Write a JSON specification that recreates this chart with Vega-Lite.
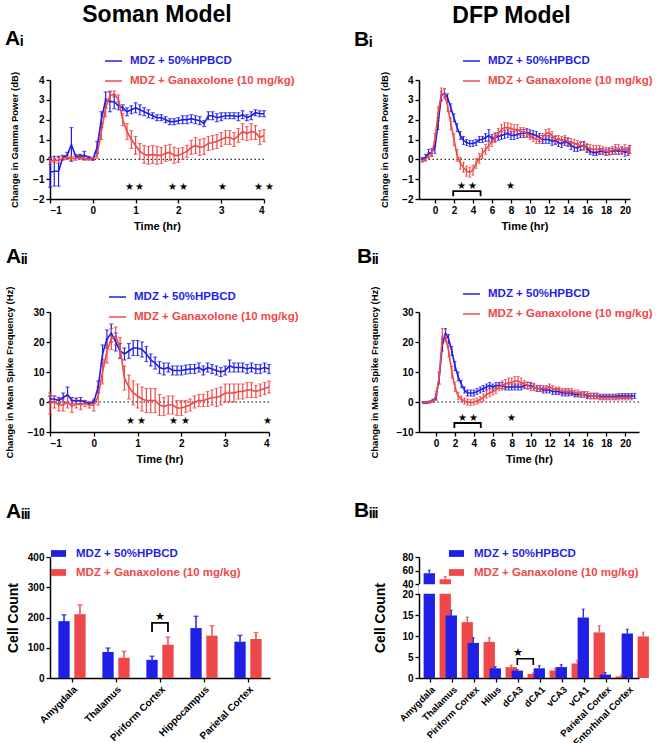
{
"$schema":"https://vega.github.io/schema/vega-lite/v6.json",
"background":"white",
"padding":{"left":4,"top":3,"right":0,"bottom":0},
"config":{"font":"Liberation Sans","view":{"stroke":null},
 "axis":{"labelFont":"Liberation Sans","labelFontWeight":"bold","labelFontSize":10,"labelColor":"black","labelOverlap":false,"titleFont":"Liberation Sans","titleFontWeight":"bold","titleColor":"black","titleFontSize":11,"domainColor":"black","domainWidth":1.5,"tickColor":"black","tickWidth":1.3,"tickSize":4,"grid":false,"labelPadding":2},
 "title":{"font":"Liberation Sans","fontWeight":"bold","color":"black"},
 "legend":{"labelFont":"Liberation Sans"}},
"datasets":{
"ai":[
{"g":"b","t":-1,"m":-0.65,"e":0.75},{"g":"b","t":-0.9,"m":-0.6,"e":0.75},{"g":"b","t":-0.8,"m":-0.6,"e":0.75},{"g":"b","t":-0.7,"m":0.1,"e":0.1},{"g":"b","t":-0.6,"m":0.2,"e":0.15},{"g":"b","t":-0.5,"m":0.75,"e":0.85},{"g":"b","t":-0.4,"m":0.15,"e":0.1},{"g":"b","t":-0.3,"m":0.15,"e":0.1},{"g":"b","t":-0.2,"m":0.2,"e":0.2},{"g":"b","t":-0.1,"m":0.1,"e":0.05},{"g":"b","t":0,"m":0.0,"e":0.05},{"g":"b","t":0.1,"m":0.6,"e":0.3},{"g":"b","t":0.2,"m":2.0,"e":0.4},{"g":"b","t":0.3,"m":3.0,"e":0.4},{"g":"b","t":0.4,"m":2.9,"e":0.5},{"g":"b","t":0.5,"m":2.9,"e":0.35},{"g":"b","t":0.6,"m":2.7,"e":0.2},{"g":"b","t":0.7,"m":2.6,"e":0.15},{"g":"b","t":0.8,"m":2.4,"e":0.2},{"g":"b","t":0.9,"m":2.5,"e":0.2},{"g":"b","t":1.0,"m":2.6,"e":0.25},{"g":"b","t":1.1,"m":2.5,"e":0.25},{"g":"b","t":1.2,"m":2.4,"e":0.2},{"g":"b","t":1.3,"m":2.3,"e":0.2},{"g":"b","t":1.4,"m":2.2,"e":0.15},{"g":"b","t":1.5,"m":2.1,"e":0.15},{"g":"b","t":1.6,"m":2.1,"e":0.15},{"g":"b","t":1.7,"m":2.0,"e":0.15},{"g":"b","t":1.8,"m":1.9,"e":0.15},{"g":"b","t":1.9,"m":1.9,"e":0.15},{"g":"b","t":2.0,"m":1.95,"e":0.15},{"g":"b","t":2.1,"m":2.0,"e":0.2},{"g":"b","t":2.2,"m":2.0,"e":0.2},{"g":"b","t":2.3,"m":2.05,"e":0.2},{"g":"b","t":2.4,"m":2.0,"e":0.2},{"g":"b","t":2.5,"m":1.95,"e":0.2},{"g":"b","t":2.6,"m":1.8,"e":0.15},{"g":"b","t":2.7,"m":2.2,"e":0.2},{"g":"b","t":2.8,"m":2.2,"e":0.2},{"g":"b","t":2.9,"m":2.1,"e":0.2},{"g":"b","t":3.0,"m":2.15,"e":0.2},{"g":"b","t":3.1,"m":2.2,"e":0.15},{"g":"b","t":3.2,"m":2.2,"e":0.15},{"g":"b","t":3.3,"m":2.2,"e":0.15},{"g":"b","t":3.4,"m":2.15,"e":0.2},{"g":"b","t":3.5,"m":2.25,"e":0.2},{"g":"b","t":3.6,"m":2.1,"e":0.15},{"g":"b","t":3.7,"m":2.2,"e":0.2},{"g":"b","t":3.8,"m":2.35,"e":0.15},{"g":"b","t":3.9,"m":2.3,"e":0.15},{"g":"b","t":4.0,"m":2.3,"e":0.15},
{"g":"r","t":-1,"m":-0.1,"e":0.15},{"g":"r","t":-0.9,"m":-0.05,"e":0.1},{"g":"r","t":-0.8,"m":-0.05,"e":0.15},{"g":"r","t":-0.7,"m":0.05,"e":0.1},{"g":"r","t":-0.6,"m":0.1,"e":0.1},{"g":"r","t":-0.5,"m":0.05,"e":0.1},{"g":"r","t":-0.4,"m":0.05,"e":0.1},{"g":"r","t":-0.3,"m":0.1,"e":0.1},{"g":"r","t":-0.2,"m":0.05,"e":0.1},{"g":"r","t":-0.1,"m":0.0,"e":0.05},{"g":"r","t":0,"m":0.05,"e":0.05},{"g":"r","t":0.1,"m":0.2,"e":0.15},{"g":"r","t":0.2,"m":1.4,"e":0.4},{"g":"r","t":0.3,"m":2.6,"e":0.45},{"g":"r","t":0.4,"m":3.2,"e":0.25},{"g":"r","t":0.5,"m":3.3,"e":0.15},{"g":"r","t":0.6,"m":3.0,"e":0.25},{"g":"r","t":0.7,"m":2.0,"e":0.3},{"g":"r","t":0.8,"m":1.4,"e":0.4},{"g":"r","t":0.9,"m":1.0,"e":0.45},{"g":"r","t":1.0,"m":0.7,"e":0.45},{"g":"r","t":1.1,"m":0.4,"e":0.4},{"g":"r","t":1.2,"m":0.25,"e":0.45},{"g":"r","t":1.3,"m":0.2,"e":0.45},{"g":"r","t":1.4,"m":0.25,"e":0.45},{"g":"r","t":1.5,"m":0.2,"e":0.45},{"g":"r","t":1.6,"m":0.2,"e":0.4},{"g":"r","t":1.7,"m":0.3,"e":0.4},{"g":"r","t":1.8,"m":0.35,"e":0.4},{"g":"r","t":1.9,"m":0.2,"e":0.4},{"g":"r","t":2.0,"m":0.2,"e":0.35},{"g":"r","t":2.1,"m":0.3,"e":0.3},{"g":"r","t":2.2,"m":0.4,"e":0.3},{"g":"r","t":2.3,"m":0.6,"e":0.35},{"g":"r","t":2.4,"m":0.7,"e":0.4},{"g":"r","t":2.5,"m":0.6,"e":0.4},{"g":"r","t":2.6,"m":0.65,"e":0.4},{"g":"r","t":2.7,"m":0.8,"e":0.35},{"g":"r","t":2.8,"m":0.85,"e":0.35},{"g":"r","t":2.9,"m":0.9,"e":0.35},{"g":"r","t":3.0,"m":1.0,"e":0.35},{"g":"r","t":3.1,"m":1.1,"e":0.35},{"g":"r","t":3.2,"m":1.1,"e":0.35},{"g":"r","t":3.3,"m":1.0,"e":0.35},{"g":"r","t":3.4,"m":1.2,"e":0.35},{"g":"r","t":3.5,"m":1.4,"e":0.4},{"g":"r","t":3.6,"m":1.3,"e":0.35},{"g":"r","t":3.7,"m":1.4,"e":0.4},{"g":"r","t":3.8,"m":1.35,"e":0.35},{"g":"r","t":3.9,"m":1.1,"e":0.35},{"g":"r","t":4.0,"m":1.2,"e":0.3}],
"ai_s":[{"t":0.86,"y":-1.4},{"t":1.1,"y":-1.4},{"t":1.87,"y":-1.4},{"t":2.12,"y":-1.4},{"t":3.02,"y":-1.4},{"t":3.87,"y":-1.4},{"t":4.12,"y":-1.4}],
"aii":[
{"g":"b","t":-1,"m":1,"e":1},{"g":"b","t":-0.9,"m":1,"e":1},{"g":"b","t":-0.8,"m":0.5,"e":1},{"g":"b","t":-0.7,"m":1.5,"e":1.5},{"g":"b","t":-0.6,"m":2.5,"e":2.5},{"g":"b","t":-0.5,"m":0.5,"e":1},{"g":"b","t":-0.4,"m":0.3,"e":1},{"g":"b","t":-0.3,"m":0.5,"e":1},{"g":"b","t":-0.2,"m":0,"e":0.5},{"g":"b","t":-0.1,"m":-0.5,"e":0.5},{"g":"b","t":0,"m":0,"e":0.5},{"g":"b","t":0.1,"m":5,"e":2},{"g":"b","t":0.2,"m":16,"e":3},{"g":"b","t":0.3,"m":21,"e":3},{"g":"b","t":0.4,"m":23,"e":3},{"g":"b","t":0.5,"m":20,"e":3},{"g":"b","t":0.6,"m":17,"e":2.5},{"g":"b","t":0.7,"m":16,"e":2},{"g":"b","t":0.8,"m":17,"e":2.5},{"g":"b","t":0.9,"m":18,"e":2.5},{"g":"b","t":1.0,"m":18,"e":2.5},{"g":"b","t":1.1,"m":17.5,"e":2.5},{"g":"b","t":1.2,"m":16,"e":2.5},{"g":"b","t":1.3,"m":14,"e":2},{"g":"b","t":1.4,"m":13,"e":2},{"g":"b","t":1.5,"m":11.5,"e":2},{"g":"b","t":1.6,"m":11,"e":2},{"g":"b","t":1.7,"m":11.5,"e":1.5},{"g":"b","t":1.8,"m":10.5,"e":1.5},{"g":"b","t":1.9,"m":10.5,"e":1.5},{"g":"b","t":2.0,"m":10.5,"e":1.5},{"g":"b","t":2.1,"m":10.8,"e":1.5},{"g":"b","t":2.2,"m":11,"e":1.5},{"g":"b","t":2.3,"m":11,"e":1.5},{"g":"b","t":2.4,"m":11.5,"e":1.5},{"g":"b","t":2.5,"m":10.5,"e":1.5},{"g":"b","t":2.6,"m":11.5,"e":1.5},{"g":"b","t":2.7,"m":11,"e":1.5},{"g":"b","t":2.8,"m":10.5,"e":1.5},{"g":"b","t":2.9,"m":10,"e":1.5},{"g":"b","t":3.0,"m":10.5,"e":1.5},{"g":"b","t":3.1,"m":12,"e":2},{"g":"b","t":3.2,"m":11.5,"e":1.5},{"g":"b","t":3.3,"m":11.5,"e":1.5},{"g":"b","t":3.4,"m":11.5,"e":1.5},{"g":"b","t":3.5,"m":11,"e":1.5},{"g":"b","t":3.6,"m":11.5,"e":1.5},{"g":"b","t":3.7,"m":11,"e":1.5},{"g":"b","t":3.8,"m":11,"e":1.5},{"g":"b","t":3.9,"m":11.5,"e":1.5},{"g":"b","t":4.0,"m":11,"e":1.5},
{"g":"r","t":-1,"m":-0.5,"e":3.5},{"g":"r","t":-0.9,"m":0,"e":2},{"g":"r","t":-0.8,"m":-1,"e":2},{"g":"r","t":-0.7,"m":-1,"e":2},{"g":"r","t":-0.6,"m":0,"e":2},{"g":"r","t":-0.5,"m":-1.5,"e":2},{"g":"r","t":-0.4,"m":-0.5,"e":1.5},{"g":"r","t":-0.3,"m":-1,"e":1.5},{"g":"r","t":-0.2,"m":-0.5,"e":1},{"g":"r","t":-0.1,"m":-1,"e":1},{"g":"r","t":0,"m":-1,"e":2},{"g":"r","t":0.1,"m":2,"e":3},{"g":"r","t":0.2,"m":10,"e":4},{"g":"r","t":0.3,"m":17,"e":4},{"g":"r","t":0.4,"m":21,"e":3.5},{"g":"r","t":0.5,"m":22,"e":3},{"g":"r","t":0.6,"m":18,"e":3.5},{"g":"r","t":0.7,"m":8,"e":4},{"g":"r","t":0.8,"m":5,"e":4},{"g":"r","t":0.9,"m":3,"e":4},{"g":"r","t":1.0,"m":2,"e":4},{"g":"r","t":1.1,"m":1,"e":4},{"g":"r","t":1.2,"m":0.5,"e":4},{"g":"r","t":1.3,"m":0.5,"e":4},{"g":"r","t":1.4,"m":0.5,"e":4},{"g":"r","t":1.5,"m":-1,"e":3.5},{"g":"r","t":1.6,"m":-1.5,"e":3},{"g":"r","t":1.7,"m":-1,"e":3},{"g":"r","t":1.8,"m":-1,"e":3},{"g":"r","t":1.9,"m":-2,"e":2.5},{"g":"r","t":2.0,"m":-2,"e":2.5},{"g":"r","t":2.1,"m":-1.5,"e":2},{"g":"r","t":2.2,"m":-1,"e":2},{"g":"r","t":2.3,"m":0,"e":2},{"g":"r","t":2.4,"m":0.5,"e":2},{"g":"r","t":2.5,"m":0.5,"e":2},{"g":"r","t":2.6,"m":1,"e":2.5},{"g":"r","t":2.7,"m":1.5,"e":2.5},{"g":"r","t":2.8,"m":1.5,"e":3},{"g":"r","t":2.9,"m":2,"e":3},{"g":"r","t":3.0,"m":3,"e":3},{"g":"r","t":3.1,"m":3,"e":3},{"g":"r","t":3.2,"m":3,"e":3},{"g":"r","t":3.3,"m":3.5,"e":2.5},{"g":"r","t":3.4,"m":3.5,"e":2.5},{"g":"r","t":3.5,"m":4,"e":2.5},{"g":"r","t":3.6,"m":4,"e":2.5},{"g":"r","t":3.7,"m":3.5,"e":2},{"g":"r","t":3.8,"m":4,"e":2},{"g":"r","t":3.9,"m":4.5,"e":2},{"g":"r","t":4.0,"m":5,"e":2}],
"aii_s":[{"t":0.84,"y":-6.3},{"t":1.09,"y":-6.3},{"t":1.83,"y":-6.3},{"t":2.09,"y":-6.3},{"t":3.96,"y":-6.3}],
"bi":[
{"g":"b","t":-1.33,"m":0.0,"e":0.1},{"g":"b","t":-1,"m":0.1,"e":0.15},{"g":"b","t":-0.67,"m":0.3,"e":0.2},{"g":"b","t":-0.33,"m":0.35,"e":0.2},{"g":"b","t":0,"m":0.6,"e":0.3},{"g":"b","t":0.33,"m":1.8,"e":0.3},{"g":"b","t":0.67,"m":3.2,"e":0.25},{"g":"b","t":1,"m":3.35,"e":0.2},{"g":"b","t":1.33,"m":3.1,"e":0.2},{"g":"b","t":1.67,"m":2.6,"e":0.2},{"g":"b","t":2,"m":2.1,"e":0.2},{"g":"b","t":2.33,"m":1.6,"e":0.2},{"g":"b","t":2.67,"m":1.2,"e":0.2},{"g":"b","t":3,"m":0.95,"e":0.2},{"g":"b","t":3.33,"m":0.85,"e":0.15},{"g":"b","t":3.67,"m":0.8,"e":0.15},{"g":"b","t":4,"m":0.8,"e":0.15},{"g":"b","t":4.33,"m":0.85,"e":0.15},{"g":"b","t":4.67,"m":1.0,"e":0.15},{"g":"b","t":5,"m":1.0,"e":0.15},{"g":"b","t":5.33,"m":1.1,"e":0.2},{"g":"b","t":5.67,"m":1.2,"e":0.3},{"g":"b","t":6,"m":1.05,"e":0.2},{"g":"b","t":6.33,"m":1.1,"e":0.2},{"g":"b","t":6.67,"m":1.15,"e":0.2},{"g":"b","t":7,"m":1.2,"e":0.2},{"g":"b","t":7.33,"m":1.25,"e":0.2},{"g":"b","t":7.67,"m":1.3,"e":0.2},{"g":"b","t":8,"m":1.2,"e":0.2},{"g":"b","t":8.33,"m":1.2,"e":0.2},{"g":"b","t":8.67,"m":1.25,"e":0.2},{"g":"b","t":9,"m":1.3,"e":0.2},{"g":"b","t":9.33,"m":1.3,"e":0.2},{"g":"b","t":9.67,"m":1.35,"e":0.2},{"g":"b","t":10,"m":1.3,"e":0.2},{"g":"b","t":10.33,"m":1.25,"e":0.2},{"g":"b","t":10.67,"m":1.2,"e":0.2},{"g":"b","t":11,"m":1.1,"e":0.2},{"g":"b","t":11.33,"m":1.0,"e":0.2},{"g":"b","t":11.67,"m":1.0,"e":0.2},{"g":"b","t":12,"m":1.0,"e":0.2},{"g":"b","t":12.33,"m":0.9,"e":0.2},{"g":"b","t":12.67,"m":0.95,"e":0.2},{"g":"b","t":13,"m":0.85,"e":0.2},{"g":"b","t":13.33,"m":0.8,"e":0.2},{"g":"b","t":13.67,"m":0.9,"e":0.2},{"g":"b","t":14,"m":0.85,"e":0.2},{"g":"b","t":14.33,"m":0.7,"e":0.2},{"g":"b","t":14.67,"m":0.6,"e":0.2},{"g":"b","t":15,"m":0.6,"e":0.2},{"g":"b","t":15.33,"m":0.65,"e":0.2},{"g":"b","t":15.67,"m":0.7,"e":0.2},{"g":"b","t":16,"m":0.55,"e":0.2},{"g":"b","t":16.33,"m":0.4,"e":0.15},{"g":"b","t":16.67,"m":0.35,"e":0.15},{"g":"b","t":17,"m":0.35,"e":0.15},{"g":"b","t":17.33,"m":0.4,"e":0.15},{"g":"b","t":17.67,"m":0.4,"e":0.15},{"g":"b","t":18,"m":0.35,"e":0.15},{"g":"b","t":18.33,"m":0.4,"e":0.15},{"g":"b","t":18.67,"m":0.4,"e":0.15},{"g":"b","t":19,"m":0.45,"e":0.15},{"g":"b","t":19.33,"m":0.4,"e":0.15},{"g":"b","t":19.67,"m":0.45,"e":0.15},{"g":"b","t":20,"m":0.35,"e":0.2},{"g":"b","t":20.33,"m":0.4,"e":0.2},{"g":"b","t":20.5,"m":0.5,"e":0.2},
{"g":"r","t":-1.33,"m":-0.05,"e":0.1},{"g":"r","t":-1,"m":0.0,"e":0.1},{"g":"r","t":-0.67,"m":0.2,"e":0.15},{"g":"r","t":-0.33,"m":0.3,"e":0.15},{"g":"r","t":0,"m":1.0,"e":0.3},{"g":"r","t":0.33,"m":2.3,"e":0.35},{"g":"r","t":0.67,"m":3.3,"e":0.3},{"g":"r","t":1,"m":3.3,"e":0.25},{"g":"r","t":1.33,"m":2.7,"e":0.3},{"g":"r","t":1.67,"m":1.8,"e":0.3},{"g":"r","t":2,"m":1.0,"e":0.3},{"g":"r","t":2.33,"m":0.2,"e":0.3},{"g":"r","t":2.67,"m":-0.2,"e":0.3},{"g":"r","t":3,"m":-0.4,"e":0.25},{"g":"r","t":3.33,"m":-0.6,"e":0.25},{"g":"r","t":3.67,"m":-0.65,"e":0.25},{"g":"r","t":4,"m":-0.55,"e":0.25},{"g":"r","t":4.33,"m":-0.2,"e":0.25},{"g":"r","t":4.67,"m":0.05,"e":0.25},{"g":"r","t":5,"m":0.3,"e":0.25},{"g":"r","t":5.33,"m":0.5,"e":0.25},{"g":"r","t":5.67,"m":0.7,"e":0.25},{"g":"r","t":6,"m":0.9,"e":0.25},{"g":"r","t":6.33,"m":1.1,"e":0.25},{"g":"r","t":6.67,"m":1.3,"e":0.25},{"g":"r","t":7,"m":1.5,"e":0.25},{"g":"r","t":7.33,"m":1.6,"e":0.25},{"g":"r","t":7.67,"m":1.6,"e":0.25},{"g":"r","t":8,"m":1.55,"e":0.25},{"g":"r","t":8.33,"m":1.5,"e":0.25},{"g":"r","t":8.67,"m":1.5,"e":0.25},{"g":"r","t":9,"m":1.4,"e":0.2},{"g":"r","t":9.33,"m":1.4,"e":0.2},{"g":"r","t":9.67,"m":1.3,"e":0.2},{"g":"r","t":10,"m":1.2,"e":0.2},{"g":"r","t":10.33,"m":1.1,"e":0.2},{"g":"r","t":10.67,"m":1.0,"e":0.2},{"g":"r","t":11,"m":1.0,"e":0.2},{"g":"r","t":11.33,"m":1.1,"e":0.2},{"g":"r","t":11.67,"m":1.3,"e":0.2},{"g":"r","t":12,"m":1.35,"e":0.2},{"g":"r","t":12.33,"m":1.2,"e":0.2},{"g":"r","t":12.67,"m":1.0,"e":0.2},{"g":"r","t":13,"m":1.0,"e":0.2},{"g":"r","t":13.33,"m":0.95,"e":0.2},{"g":"r","t":13.67,"m":1.0,"e":0.2},{"g":"r","t":14,"m":0.9,"e":0.2},{"g":"r","t":14.33,"m":0.85,"e":0.2},{"g":"r","t":14.67,"m":0.8,"e":0.2},{"g":"r","t":15,"m":0.75,"e":0.2},{"g":"r","t":15.33,"m":0.7,"e":0.2},{"g":"r","t":15.67,"m":0.65,"e":0.2},{"g":"r","t":16,"m":0.6,"e":0.2},{"g":"r","t":16.33,"m":0.55,"e":0.2},{"g":"r","t":16.67,"m":0.5,"e":0.2},{"g":"r","t":17,"m":0.5,"e":0.2},{"g":"r","t":17.33,"m":0.5,"e":0.2},{"g":"r","t":17.67,"m":0.45,"e":0.2},{"g":"r","t":18,"m":0.4,"e":0.2},{"g":"r","t":18.33,"m":0.4,"e":0.2},{"g":"r","t":18.67,"m":0.45,"e":0.2},{"g":"r","t":19,"m":0.5,"e":0.25},{"g":"r","t":19.33,"m":0.5,"e":0.25},{"g":"r","t":19.67,"m":0.45,"e":0.2},{"g":"r","t":20,"m":0.55,"e":0.2},{"g":"r","t":20.33,"m":0.4,"e":0.2},{"g":"r","t":20.5,"m":0.5,"e":0.2}],
"bi_s":[{"t":2.8,"y":-1.35},{"t":4.0,"y":-1.35},{"t":7.94,"y":-1.35}],
"bi_br":[{"t":1.92,"y":-1.86,"o":0},{"t":1.92,"y":-1.6,"o":1},{"t":4.8,"y":-1.6,"o":2},{"t":4.8,"y":-1.86,"o":3}],
"bii":[
{"g":"b","t":-1.33,"m":-0.2,"e":0.3},{"g":"b","t":-1,"m":-0.2,"e":0.3},{"g":"b","t":-0.67,"m":0,"e":0.3},{"g":"b","t":-0.33,"m":0.5,"e":0.4},{"g":"b","t":0,"m":1.5,"e":0.8},{"g":"b","t":0.33,"m":8,"e":2},{"g":"b","t":0.67,"m":19,"e":2},{"g":"b","t":1,"m":23,"e":1.5},{"g":"b","t":1.33,"m":21,"e":1.5},{"g":"b","t":1.67,"m":17,"e":1.5},{"g":"b","t":2,"m":12,"e":1.5},{"g":"b","t":2.33,"m":8.5,"e":1.5},{"g":"b","t":2.67,"m":6,"e":1.2},{"g":"b","t":3,"m":4,"e":1},{"g":"b","t":3.33,"m":3,"e":1},{"g":"b","t":3.67,"m":3,"e":1},{"g":"b","t":4,"m":3,"e":1},{"g":"b","t":4.33,"m":3.5,"e":1},{"g":"b","t":4.67,"m":4,"e":1},{"g":"b","t":5,"m":4.5,"e":1},{"g":"b","t":5.33,"m":5,"e":1},{"g":"b","t":5.67,"m":5.5,"e":1},{"g":"b","t":6,"m":5,"e":1},{"g":"b","t":6.33,"m":5.5,"e":1},{"g":"b","t":6.67,"m":5.5,"e":1},{"g":"b","t":7,"m":5.5,"e":1},{"g":"b","t":7.33,"m":5,"e":1},{"g":"b","t":7.67,"m":5,"e":1},{"g":"b","t":8,"m":5,"e":1},{"g":"b","t":8.33,"m":5,"e":1},{"g":"b","t":8.67,"m":5,"e":1},{"g":"b","t":9,"m":5,"e":1},{"g":"b","t":9.33,"m":5.5,"e":1},{"g":"b","t":9.67,"m":5.5,"e":1},{"g":"b","t":10,"m":5.5,"e":1},{"g":"b","t":10.33,"m":5,"e":1},{"g":"b","t":10.67,"m":4.5,"e":1},{"g":"b","t":11,"m":4.5,"e":1},{"g":"b","t":11.33,"m":4,"e":1},{"g":"b","t":11.67,"m":4,"e":1},{"g":"b","t":12,"m":4,"e":1},{"g":"b","t":12.33,"m":3.5,"e":1},{"g":"b","t":12.67,"m":3.5,"e":1},{"g":"b","t":13,"m":3.5,"e":1},{"g":"b","t":13.33,"m":3,"e":1},{"g":"b","t":13.67,"m":3,"e":1},{"g":"b","t":14,"m":3,"e":1},{"g":"b","t":14.33,"m":3,"e":0.8},{"g":"b","t":14.67,"m":2.5,"e":0.8},{"g":"b","t":15,"m":2.5,"e":0.8},{"g":"b","t":15.33,"m":2.5,"e":0.8},{"g":"b","t":15.67,"m":2.5,"e":0.8},{"g":"b","t":16,"m":2,"e":0.8},{"g":"b","t":16.33,"m":2,"e":0.8},{"g":"b","t":16.67,"m":2,"e":0.8},{"g":"b","t":17,"m":2,"e":0.8},{"g":"b","t":17.33,"m":1.8,"e":0.8},{"g":"b","t":17.67,"m":1.8,"e":0.8},{"g":"b","t":18,"m":1.8,"e":0.8},{"g":"b","t":18.33,"m":1.8,"e":0.8},{"g":"b","t":18.67,"m":1.8,"e":0.8},{"g":"b","t":19,"m":1.8,"e":0.8},{"g":"b","t":19.33,"m":2,"e":0.8},{"g":"b","t":19.67,"m":2,"e":0.8},{"g":"b","t":20,"m":2,"e":0.8},{"g":"b","t":20.33,"m":2,"e":0.8},{"g":"b","t":20.67,"m":2,"e":0.8},{"g":"b","t":21,"m":2,"e":0.8},
{"g":"r","t":-1.33,"m":-0.2,"e":0.3},{"g":"r","t":-1,"m":-0.1,"e":0.3},{"g":"r","t":-0.67,"m":0,"e":0.3},{"g":"r","t":-0.33,"m":0.3,"e":0.4},{"g":"r","t":0,"m":2,"e":1.5},{"g":"r","t":0.33,"m":8,"e":2},{"g":"r","t":0.67,"m":22,"e":2.5},{"g":"r","t":1,"m":22,"e":2},{"g":"r","t":1.33,"m":17,"e":2},{"g":"r","t":1.67,"m":10,"e":2},{"g":"r","t":2,"m":5,"e":1.5},{"g":"r","t":2.33,"m":2,"e":1.2},{"g":"r","t":2.67,"m":1,"e":1},{"g":"r","t":3,"m":0.3,"e":1},{"g":"r","t":3.33,"m":0,"e":1},{"g":"r","t":3.67,"m":-0.2,"e":1},{"g":"r","t":4,"m":0,"e":1},{"g":"r","t":4.33,"m":0.3,"e":1},{"g":"r","t":4.67,"m":0.8,"e":1},{"g":"r","t":5,"m":1.5,"e":1.2},{"g":"r","t":5.33,"m":2.5,"e":1.2},{"g":"r","t":5.67,"m":3,"e":1.2},{"g":"r","t":6,"m":3.5,"e":1.2},{"g":"r","t":6.33,"m":4,"e":1.2},{"g":"r","t":6.67,"m":5,"e":1.2},{"g":"r","t":7,"m":5.5,"e":1.5},{"g":"r","t":7.33,"m":6,"e":1.5},{"g":"r","t":7.67,"m":6.5,"e":1.5},{"g":"r","t":8,"m":6.5,"e":1.5},{"g":"r","t":8.33,"m":7,"e":1.5},{"g":"r","t":8.67,"m":7,"e":1.5},{"g":"r","t":9,"m":6.5,"e":1.5},{"g":"r","t":9.33,"m":6,"e":1.2},{"g":"r","t":9.67,"m":5.5,"e":1.2},{"g":"r","t":10,"m":5,"e":1.2},{"g":"r","t":10.33,"m":5,"e":1.2},{"g":"r","t":10.67,"m":4.5,"e":1},{"g":"r","t":11,"m":4.5,"e":1},{"g":"r","t":11.33,"m":4.5,"e":1},{"g":"r","t":11.67,"m":4.5,"e":1},{"g":"r","t":12,"m":5,"e":1},{"g":"r","t":12.33,"m":4.5,"e":1},{"g":"r","t":12.67,"m":4,"e":1},{"g":"r","t":13,"m":4,"e":1},{"g":"r","t":13.33,"m":3.5,"e":1},{"g":"r","t":13.67,"m":3.5,"e":1},{"g":"r","t":14,"m":3.5,"e":1},{"g":"r","t":14.33,"m":3.5,"e":1},{"g":"r","t":14.67,"m":3,"e":1},{"g":"r","t":15,"m":3,"e":1},{"g":"r","t":15.33,"m":2.5,"e":1},{"g":"r","t":15.67,"m":2.5,"e":1},{"g":"r","t":16,"m":2.5,"e":1},{"g":"r","t":16.33,"m":2,"e":1},{"g":"r","t":16.67,"m":2,"e":1},{"g":"r","t":17,"m":2,"e":1},{"g":"r","t":17.33,"m":1.5,"e":0.8},{"g":"r","t":17.67,"m":1.5,"e":0.8},{"g":"r","t":18,"m":1.5,"e":0.8},{"g":"r","t":18.33,"m":1.5,"e":0.8},{"g":"r","t":18.67,"m":1.5,"e":0.8},{"g":"r","t":19,"m":1.5,"e":0.8},{"g":"r","t":19.33,"m":1.5,"e":0.8},{"g":"r","t":19.67,"m":1.5,"e":0.8},{"g":"r","t":20,"m":1.5,"e":0.8},{"g":"r","t":20.33,"m":1.5,"e":0.8},{"g":"r","t":20.67,"m":1.5,"e":0.8}],
"bii_s":[{"t":2.8,"y":-5.3},{"t":4.0,"y":-5.3},{"t":8.0,"y":-5.3}],
"bii_br":[{"t":1.94,"y":-8.7,"o":0},{"t":1.94,"y":-7,"o":1},{"t":4.73,"y":-7,"o":2},{"t":4.73,"y":-8.7,"o":3}],
"aiii":[
{"c":"Amygdala","g":"b","v":188,"hi":209},{"c":"Amygdala","g":"r","v":211,"hi":242},
{"c":"Thalamus","g":"b","v":86,"hi":99},{"c":"Thalamus","g":"r","v":67,"hi":88},
{"c":"Piriform Cortex","g":"b","v":60,"hi":72},{"c":"Piriform Cortex","g":"r","v":110,"hi":135},
{"c":"Hippocampus","g":"b","v":165,"hi":204},{"c":"Hippocampus","g":"r","v":140,"hi":173},
{"c":"Parietal Cortex","g":"b","v":120,"hi":141},{"c":"Parietal Cortex","g":"r","v":129,"hi":150}],
"aiii_br":[{"c":"Piriform Cortex","g":"b","y":152,"o":0},{"c":"Piriform Cortex","g":"b","y":182,"o":1},{"c":"Piriform Cortex","g":"r","y":182,"o":2},{"c":"Piriform Cortex","g":"r","y":152,"o":3}],
"biii":[
{"c":"Amygdala","g":"b","v":56,"hi":60.5},{"c":"Amygdala","g":"r","v":47,"hi":51},
{"c":"Thalamus","g":"b","v":14.9,"hi":16.1},{"c":"Thalamus","g":"r","v":13.3,"hi":14.5},
{"c":"Piriform Cortex","g":"b","v":8.35,"hi":9.6},{"c":"Piriform Cortex","g":"r","v":8.6,"hi":9.6},
{"c":"Hilus","g":"b","v":2.3,"hi":2.7},{"c":"Hilus","g":"r","v":2.6,"hi":3.05},
{"c":"dCA3","g":"b","v":1.77,"hi":2.0},{"c":"dCA3","g":"r","v":0.96,"hi":1.2},
{"c":"dCA1","g":"b","v":2.3,"hi":2.95},{"c":"dCA1","g":"r","v":1.8,"hi":2.25},
{"c":"vCA3","g":"b","v":2.6,"hi":3.2},{"c":"vCA3","g":"r","v":3.45,"hi":4.2},
{"c":"vCA1","g":"b","v":14.4,"hi":16.4},{"c":"vCA1","g":"r","v":10.85,"hi":12.45},
{"c":"Parietal Cortex","g":"b","v":0.8,"hi":1.3},{"c":"Parietal Cortex","g":"r","v":0.4,"hi":0.7},
{"c":"Entorhinal Cortex","g":"b","v":10.6,"hi":11.6},{"c":"Entorhinal Cortex","g":"r","v":9.9,"hi":10.9}],
"biii_br":[{"c":"dCA3","g":"b","y":3.1,"o":0},{"c":"dCA3","g":"b","y":4.6,"o":1},{"c":"dCA3","g":"r","y":4.6,"o":2},{"c":"dCA3","g":"r","y":3.1,"o":3}]
},
"columns":2,
"align":"none",
"bounds":"flush",
"spacing":{"row":113,"column":149},
"concat":[
 {"width":214,"height":119,
  "title":{"text":"Soman Model","anchor":"middle","frame":"group","fontSize":23,"offset":1},
  "data":{"name":"ai"},
  "layer":[
   {"data":{"values":[{}]},"mark":{"type":"rule","color":"black","strokeDash":[1.5,2.5],"strokeWidth":1},"encoding":{"y":{"datum":0,"type":"quantitative","scale":{"domain":[-2,4],"nice":false},"axis":{"values":[-2,-1,0,1,2,3,4],"tickCount":20,"format":"d","title":"Change in Gamma Power (dB)","titleFontSize":9.5,"titlePadding":13}}}},
   {"mark":{"type":"errorbar","ticks":{"size":4,"thickness":1.2},"thickness":1.2},"encoding":{
     "x":{"field":"t","type":"quantitative","scale":{"domain":[-1,4],"nice":false},"axis":{"values":[-1,0,1,2,3,4],"tickCount":20,"format":"d","title":"Time (hr)","titlePadding":5}},
     "y":{"field":"m","type":"quantitative","scale":{"domain":[-2,4],"nice":false},"axis":{"values":[-2,-1,0,1,2,3,4],"tickCount":20,"format":"d","title":"Change in Gamma Power (dB)","titleFontSize":9.5,"titlePadding":13}},
     "yError":{"field":"e"},
     "color":{"field":"g","type":"nominal","scale":{"domain":["b","r"],"range":["#1f1fe6","#f04848"]},"legend":{"title":null,"orient":"none","legendX":54,"legendY":-28.5,"symbolType":"stroke","symbolSize":289,"symbolStrokeWidth":1.5,"labelFontSize":11.5,"labelFontWeight":"bold","labelOffset":7,"rowPadding":5,"labelLimit":300,"labelExpr":"datum.value == 'b' ? 'MDZ + 50%HPBCD' : 'MDZ + Ganaxolone (10 mg/kg)'","encode":{"labels":{"update":{"fill":{"signal":"datum.value == 'b' ? '#1f1fe6' : '#f04848'"}}}}}}}},
   {"mark":{"type":"line","strokeWidth":1.6},"encoding":{"x":{"field":"t","type":"quantitative"},"y":{"field":"m","type":"quantitative"},
     "color":{"field":"g","type":"nominal","legend":null}}},
   {"data":{"name":"ai_s"},"mark":{"type":"text","text":"★","fontSize":10,"color":"black"},"encoding":{"x":{"field":"t","type":"quantitative"},"y":{"field":"y","type":"quantitative"}}},
   {"data":{"values":[{}]},"mark":{"type":"text","text":"Aᵢ","fontSize":21,"fontWeight":"bold","align":"left","baseline":"alphabetic","color":"black"},"encoding":{"x":{"datum":-2.05,"type":"quantitative"},"y":{"datum":5.77,"type":"quantitative"}}}
  ]},
 {"width":211,"height":119,
  "title":{"text":"DFP Model","anchor":"middle","frame":"group","fontSize":23,"offset":1,"dx":-13},
  "data":{"name":"bi"},
  "layer":[
   {"data":{"values":[{}]},"mark":{"type":"rule","color":"black","strokeDash":[1.5,2.5],"strokeWidth":1},"encoding":{"y":{"datum":0,"type":"quantitative","scale":{"domain":[-2,4],"nice":false},"axis":{"values":[-2,-1,0,1,2,3,4],"tickCount":20,"format":"d","title":"Change in Gamma Power (dB)","titleFontSize":9.5,"titlePadding":12}}}},
   {"mark":{"type":"errorbar","ticks":{"size":3,"thickness":1.1},"thickness":1.1},"encoding":{
     "x":{"field":"t","type":"quantitative","scale":{"domain":[-1.68,20.53],"nice":false,"zero":false},"axis":{"values":[0,2,4,6,8,10,12,14,16,18,20],"tickCount":20,"format":"d","title":"Time (hr)","titlePadding":5}},
     "y":{"field":"m","type":"quantitative","scale":{"domain":[-2,4],"nice":false},"axis":{"values":[-2,-1,0,1,2,3,4],"tickCount":20,"format":"d","title":"Change in Gamma Power (dB)","titleFontSize":9.5,"titlePadding":12}},
     "yError":{"field":"e"},
     "color":{"field":"g","type":"nominal","scale":{"domain":["b","r"],"range":["#1f1fe6","#f04848"]},"legend":{"title":null,"orient":"none","legendX":43,"legendY":-28.5,"symbolType":"stroke","symbolSize":289,"symbolStrokeWidth":1.5,"labelFontSize":11.5,"labelFontWeight":"bold","labelOffset":7,"rowPadding":5,"labelLimit":300,"labelExpr":"datum.value == 'b' ? 'MDZ + 50%HPBCD' : 'MDZ + Ganaxolone (10 mg/kg)'","encode":{"labels":{"update":{"fill":{"signal":"datum.value == 'b' ? '#1f1fe6' : '#f04848'"}}}}}}}},
   {"mark":{"type":"line","strokeWidth":1.6},"encoding":{"x":{"field":"t","type":"quantitative"},"y":{"field":"m","type":"quantitative"},
     "color":{"field":"g","type":"nominal","legend":null}}},
   {"data":{"name":"bi_br"},"mark":{"type":"line","color":"black","strokeWidth":1.8},"encoding":{"x":{"field":"t","type":"quantitative"},"y":{"field":"y","type":"quantitative"},"order":{"field":"o"}}},
   {"data":{"name":"bi_s"},"mark":{"type":"text","text":"★","fontSize":10,"color":"black"},"encoding":{"x":{"field":"t","type":"quantitative"},"y":{"field":"y","type":"quantitative"}}},
   {"data":{"values":[{}]},"mark":{"type":"text","text":"Bᵢ","fontSize":21,"fontWeight":"bold","align":"left","baseline":"alphabetic","color":"black"},"encoding":{"x":{"datum":-8.52,"type":"quantitative"},"y":{"datum":5.72,"type":"quantitative"}}}
  ]},
 {"width":219,"height":120,
   "title":{"text":"Aᵢᵢ","anchor":"start","frame":"group","dx":-44,"fontSize":21,"offset":18.5},
   "data":{"name":"aii"},
   "layer":[
   {"data":{"values":[{}]},"mark":{"type":"rule","color":"black","strokeDash":[1.5,2.5],"strokeWidth":1},"encoding":{"y":{"datum":0,"type":"quantitative","scale":{"domain":[-10,30],"nice":false},"axis":{"values":[-10,0,10,20,30],"tickCount":20,"format":"d","title":"Change in Mean Spike Frequency (Hz)","titleFontSize":9.5,"titlePadding":13}}}},
   {"mark":{"type":"errorbar","ticks":{"size":4,"thickness":1.2},"thickness":1.2},"encoding":{
     "x":{"field":"t","type":"quantitative","scale":{"domain":[-1,4],"nice":false},"axis":{"values":[-1,0,1,2,3,4],"tickCount":20,"format":"d","title":"Time (hr)","titlePadding":5}},
     "y":{"field":"m","type":"quantitative","scale":{"domain":[-10,30],"nice":false},"axis":{"values":[-10,0,10,20,30],"tickCount":20,"format":"d","title":"Change in Mean Spike Frequency (Hz)","titleFontSize":9.5,"titlePadding":13}},
     "yError":{"field":"e"},
     "color":{"field":"g","type":"nominal","scale":{"domain":["b","r"],"range":["#1f1fe6","#f04848"]},"legend":{"title":null,"orient":"none","legendX":58,"legendY":-24.5,"symbolType":"stroke","symbolSize":289,"symbolStrokeWidth":1.5,"labelFontSize":11.5,"labelFontWeight":"bold","labelOffset":7,"rowPadding":5,"labelLimit":300,"labelExpr":"datum.value == 'b' ? 'MDZ + 50%HPBCD' : 'MDZ + Ganaxolone (10 mg/kg)'","encode":{"labels":{"update":{"fill":{"signal":"datum.value == 'b' ? '#1f1fe6' : '#f04848'"}}}}}}}},
   {"mark":{"type":"line","strokeWidth":1.6},"encoding":{"x":{"field":"t","type":"quantitative"},"y":{"field":"m","type":"quantitative"},
     "color":{"field":"g","type":"nominal","legend":null}}},
   {"data":{"name":"aii_s"},"mark":{"type":"text","text":"★","fontSize":10,"color":"black"},"encoding":{"x":{"field":"t","type":"quantitative"},"y":{"field":"y","type":"quantitative"}}}
  ]},
 {"width":220,"height":120,
   "title":{"text":"Bᵢᵢ","anchor":"start","frame":"group","dx":-62,"fontSize":21,"offset":17.5},
   "data":{"name":"bii"},
   "layer":[
   {"data":{"values":[{}]},"mark":{"type":"rule","color":"black","strokeDash":[1.5,2.5],"strokeWidth":1},"encoding":{"y":{"datum":0,"type":"quantitative","scale":{"domain":[-10,30],"nice":false},"axis":{"values":[-10,0,10,20,30],"tickCount":20,"format":"d","title":"Change in Mean Spike Frequency (Hz)","titleFontSize":9.5,"titlePadding":17}}}},
   {"mark":{"type":"errorbar","ticks":{"size":3,"thickness":1.1},"thickness":1.1},"encoding":{
     "x":{"field":"t","type":"quantitative","scale":{"domain":[-1.8,21.45],"nice":false,"zero":false},"axis":{"values":[0,2,4,6,8,10,12,14,16,18,20],"tickCount":20,"format":"d","title":"Time (hr)","titlePadding":5}},
     "y":{"field":"m","type":"quantitative","scale":{"domain":[-10,30],"nice":false},"axis":{"values":[-10,0,10,20,30],"tickCount":20,"format":"d","title":"Change in Mean Spike Frequency (Hz)","titleFontSize":9.5,"titlePadding":17}},
     "yError":{"field":"e"},
     "color":{"field":"g","type":"nominal","scale":{"domain":["b","r"],"range":["#1f1fe6","#f04848"]},"legend":{"title":null,"orient":"none","legendX":43,"legendY":-27.5,"symbolType":"stroke","symbolSize":289,"symbolStrokeWidth":1.5,"labelFontSize":11.5,"labelFontWeight":"bold","labelOffset":7,"rowPadding":5,"labelLimit":300,"labelExpr":"datum.value == 'b' ? 'MDZ + 50%HPBCD' : 'MDZ + Ganaxolone (10 mg/kg)'","encode":{"labels":{"update":{"fill":{"signal":"datum.value == 'b' ? '#1f1fe6' : '#f04848'"}}}}}}}},
   {"mark":{"type":"line","strokeWidth":1.6},"encoding":{"x":{"field":"t","type":"quantitative"},"y":{"field":"m","type":"quantitative"},
     "color":{"field":"g","type":"nominal","legend":null}}},
   {"data":{"name":"bii_br"},"mark":{"type":"line","color":"black","strokeWidth":1.8},"encoding":{"x":{"field":"t","type":"quantitative"},"y":{"field":"y","type":"quantitative"},"order":{"field":"o"}}},
   {"data":{"name":"bii_s"},"mark":{"type":"text","text":"★","fontSize":10,"color":"black"},"encoding":{"x":{"field":"t","type":"quantitative"},"y":{"field":"y","type":"quantitative"}}}
  ]},
 {"width":220,"height":133,
   "title":{"text":"Aᵢᵢᵢ","anchor":"start","frame":"group","dx":-44,"fontSize":21,"offset":23.5},
   "data":{"name":"aiii"},
   "layer":[
    {"mark":{"type":"bar"},"encoding":{
      "x":{"field":"c","type":"nominal","scale":{"domain":["Amygdala","Thalamus","Piriform Cortex","Hippocampus","Parietal Cortex"],"paddingInner":0.38,"paddingOuter":0.19},"axis":{"labelAngle":-45,"title":null,"labelFontSize":10}},
      "xOffset":{"field":"g","type":"nominal","scale":{"domain":["b","r"],"paddingInner":0.29}},
      "y":{"field":"v","type":"quantitative","scale":{"domain":[0,400],"range":[133,12],"nice":false},"axis":{"values":[0,100,200,300,400],"tickCount":20,"format":"d","title":"Cell Count","titleFontSize":14,"titlePadding":7}},
      "color":{"field":"g","type":"nominal","scale":{"domain":["b","r"],"range":["#1f1fe6","#f04848"]},"legend":{"title":null,"orient":"top-left","offset":0,"padding":0,"symbolType":"M-1,-0.45H1V0.45H-1Z","symbolSize":225,"labelFontSize":11.5,"labelFontWeight":"bold","labelOffset":9,"rowPadding":5,"labelLimit":300,"labelExpr":"datum.value == 'b' ? 'MDZ + 50%HPBCD' : 'MDZ + Ganaxolone (10 mg/kg)'","encode":{"labels":{"update":{"fill":{"signal":"datum.value == 'b' ? '#1f1fe6' : '#f04848'"}}}}}}}},
    {"transform":[{"filter":"datum.g == 'b'"}],"mark":{"type":"rule","strokeWidth":1.5,"color":"#1f1fe6"},"encoding":{"x":{"field":"c","type":"nominal"},"xOffset":{"field":"g","type":"nominal"},"y":{"field":"v","type":"quantitative"},"y2":{"field":"hi"}}},
    {"transform":[{"filter":"datum.g == 'r'"}],"mark":{"type":"rule","strokeWidth":1.5,"color":"#f04848"},"encoding":{"x":{"field":"c","type":"nominal"},"xOffset":{"field":"g","type":"nominal"},"y":{"field":"v","type":"quantitative"},"y2":{"field":"hi"}}},
    {"transform":[{"filter":"datum.g == 'b'"}],"mark":{"type":"tick","orient":"horizontal","size":5,"thickness":1.5,"color":"#1f1fe6"},"encoding":{"x":{"field":"c","type":"nominal"},"xOffset":{"field":"g","type":"nominal"},"y":{"field":"hi","type":"quantitative"}}},
    {"transform":[{"filter":"datum.g == 'r'"}],"mark":{"type":"tick","orient":"horizontal","size":5,"thickness":1.5,"color":"#f04848"},"encoding":{"x":{"field":"c","type":"nominal"},"xOffset":{"field":"g","type":"nominal"},"y":{"field":"hi","type":"quantitative"}}},
    {"data":{"name":"aiii_br"},"mark":{"type":"line","color":"black","strokeWidth":1.8},"encoding":{"x":{"field":"c","type":"nominal"},"xOffset":{"field":"g","type":"nominal"},"y":{"field":"y","type":"quantitative"},"order":{"field":"o"}}},
    {"data":{"values":[{"c":"Piriform Cortex","y":202}]},"mark":{"type":"text","text":"★","fontSize":11,"color":"black"},"encoding":{"x":{"field":"c","type":"nominal"},"y":{"field":"y","type":"quantitative"}}}
   ]},
 {"width":220,"height":133,
   "title":{"text":"Bᵢᵢᵢ","anchor":"start","frame":"group","dx":-65,"fontSize":21,"offset":24.5},
   "data":{"name":"biii"},
   "layer":[
    {"mark":{"type":"bar"},"encoding":{
      "x":{"field":"c","type":"nominal","scale":{"domain":["Amygdala","Thalamus","Piriform Cortex","Hilus","dCA3","dCA1","vCA3","vCA1","Parietal Cortex","Entorhinal Cortex"],"paddingInner":0.42,"paddingOuter":0.21},"axis":{"labelAngle":-45,"title":null,"labelFontSize":9.5}},
      "xOffset":{"field":"g","type":"nominal","scale":{"domain":["b","r"],"paddingInner":0.235}},
      "y":{"field":"v","type":"quantitative","scale":{"domain":[0,20,40,80],"range":[133,49,39,12],"nice":false,"zero":false},"axis":{"values":[0,5,10,15,20,40,60,80],"tickCount":20,"format":"d","title":"Cell Count","titleFontSize":14,"titlePadding":14}},
      "color":{"field":"g","type":"nominal","scale":{"domain":["b","r"],"range":["#1f1fe6","#f04848"]},"legend":{"title":null,"orient":"top-right","offset":0,"padding":0,"symbolType":"M-1,-0.45H1V0.45H-1Z","symbolSize":225,"labelFontSize":11.5,"labelFontWeight":"bold","labelOffset":9,"rowPadding":5,"labelLimit":300,"labelExpr":"datum.value == 'b' ? 'MDZ + 50%HPBCD' : 'MDZ + Ganaxolone (10 mg/kg)'","encode":{"labels":{"update":{"fill":{"signal":"datum.value == 'b' ? '#1f1fe6' : '#f04848'"}}}}}}}},
    {"transform":[{"filter":"datum.g == 'b'"}],"mark":{"type":"rule","strokeWidth":1.3,"color":"#1f1fe6"},"encoding":{"x":{"field":"c","type":"nominal"},"xOffset":{"field":"g","type":"nominal"},"y":{"field":"v","type":"quantitative"},"y2":{"field":"hi"}}},
    {"transform":[{"filter":"datum.g == 'r'"}],"mark":{"type":"rule","strokeWidth":1.3,"color":"#f04848"},"encoding":{"x":{"field":"c","type":"nominal"},"xOffset":{"field":"g","type":"nominal"},"y":{"field":"v","type":"quantitative"},"y2":{"field":"hi"}}},
    {"transform":[{"filter":"datum.g == 'b'"}],"mark":{"type":"tick","orient":"horizontal","size":3,"thickness":1.3,"color":"#1f1fe6"},"encoding":{"x":{"field":"c","type":"nominal"},"xOffset":{"field":"g","type":"nominal"},"y":{"field":"hi","type":"quantitative"}}},
    {"transform":[{"filter":"datum.g == 'r'"}],"mark":{"type":"tick","orient":"horizontal","size":3,"thickness":1.3,"color":"#f04848"},"encoding":{"x":{"field":"c","type":"nominal"},"xOffset":{"field":"g","type":"nominal"},"y":{"field":"hi","type":"quantitative"}}},
    {"data":{"values":[{"a":20.4,"b":39.6}]},"mark":{"type":"rect","color":"white"},"encoding":{"y":{"field":"a","type":"quantitative"},"y2":{"field":"b"}}},
    {"data":{"name":"biii_br"},"mark":{"type":"line","color":"black","strokeWidth":1.6},"encoding":{"x":{"field":"c","type":"nominal"},"xOffset":{"field":"g","type":"nominal"},"y":{"field":"y","type":"quantitative"},"order":{"field":"o"}}},
    {"data":{"values":[{"c":"dCA3","y":6}]},"mark":{"type":"text","text":"★","fontSize":11,"color":"black"},"encoding":{"x":{"field":"c","type":"nominal"},"y":{"field":"y","type":"quantitative"}}}
   ]}
]
}
